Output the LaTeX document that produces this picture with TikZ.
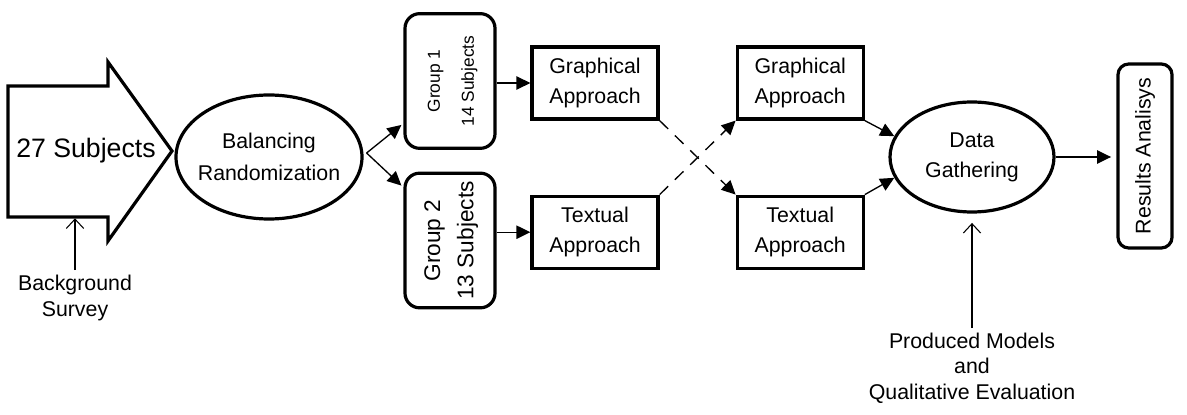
\documentclass[tikz,border=0pt]{standalone}
\usepackage{fontspec}
\setmainfont{Liberation Sans}
\usetikzlibrary{arrows.meta,calc,positioning,shapes.geometric}

\begin{document}
\begin{tikzpicture}[x=0.75pt,y=0.75pt,
        box/.style={draw,line width=2.4pt,minimum width=94.5pt,minimum height=54pt,align=center,
            font=\fontsize{16}{22.5}\selectfont},
        grp/.style={draw,line width=2.4pt,rounded corners=11pt,minimum width=67.5pt,minimum height=101pt},
        oval/.style={draw,ellipse,line width=2.4pt,align=center},
        link/.style={line width=1pt,-{Triangle[length=10.5pt,width=10pt]}},
        feed/.style={line width=0.8pt,-{Straight Barb[length=7pt,width=13pt]}}]
        \useasboundingbox (0,0) rectangle (1187,414);

        % input population
        \draw[line width=2.4pt,line join=miter] (8,328) -- (108,328) -- (108,352) -- (172,263)
            -- (108,173) -- (108,197) -- (8,197) -- cycle;
        \node (subj) at (86,263) {\fontsize{20}{24}\selectfont 27 Subjects};
        \coordinate (subjbase) at (75,197);
        \node[align=center,font=\fontsize{16}{20}\selectfont] (survey) at (75,116) {Background\\Survey};

        \node[oval,inner xsep=-5pt,minimum width=139.5pt,minimum height=93pt,font=\fontsize{16}{24}\selectfont] (bal) at (269,257) {Balancing\\Randomization};

        % the two groups
        \node[grp] (g1) at (450,333) {\rotatebox{90}{\fontsize{13}{25.5}\selectfont
            \begin{tabular}{@{}c@{}}Group 1\\14 Subjects\end{tabular}}};
        \node[grp] (g2) at (450,173.5) {\rotatebox{90}{\fontsize{17}{25}\selectfont
            \begin{tabular}{@{}c@{}}Group 2\\13 Subjects\end{tabular}}};

        \node[box] (gr1) at (595,331) {Graphical\\Approach};
        \node[box, below = 55.5pt of gr1] (tx1) {Textual\\Approach};
        \node[box, right = 57pt of gr1] (gr2) {Graphical\\Approach};
        \node[box, right = 57pt of tx1] (tx2) {Textual\\Approach};

        \node[oval,minimum width=123pt,minimum height=82.5pt,font=\fontsize{16}{22.5}\selectfont] (data) at (972,257) {Data\\Gathering};
        \node[draw,line width=2.4pt,rounded corners=8pt,minimum width=40.5pt,minimum height=138pt] (res) at (1145,258)
            {\rotatebox{90}{\fontsize{16}{20}\selectfont Results Analisys}};
        \node[align=center,font=\fontsize{16}{19}\selectfont] (prod) at (972,46) {Produced Models\\and\\Qualitative Evaluation};

        \draw[feed,shorten >=1pt] (survey.north) -- (subjbase);
        \draw[link] ($(bal.east)+(3,4)$) -- ($(g1.south west)+(-2,25)$);
        \draw[link] ($(bal.east)+(3,4)$) -- ($(g2.north west)+(-2,-14)$);
        \draw[link] (g1.east |- gr1) -- (gr1.west);
        \draw[link] (g2.east |- tx1) -- (tx1.west);

        \draw[link,dash pattern=on 9pt off 7pt] (gr1.south east) -- (tx2.north west);
        \draw[link,dash pattern=on 9pt off 7pt] (tx1.north east) -- (gr2.south west);

        \draw[link] (gr2.south east) -- (data.165);
        \draw[link] (tx2.north east) -- (data.195);
        \draw[link,shorten >=4pt] (data.east) -- (data.east -| res.west);
        \draw[feed,shorten >=7pt] (prod.north) -- (data.south);

\end{tikzpicture}
\end{document}
